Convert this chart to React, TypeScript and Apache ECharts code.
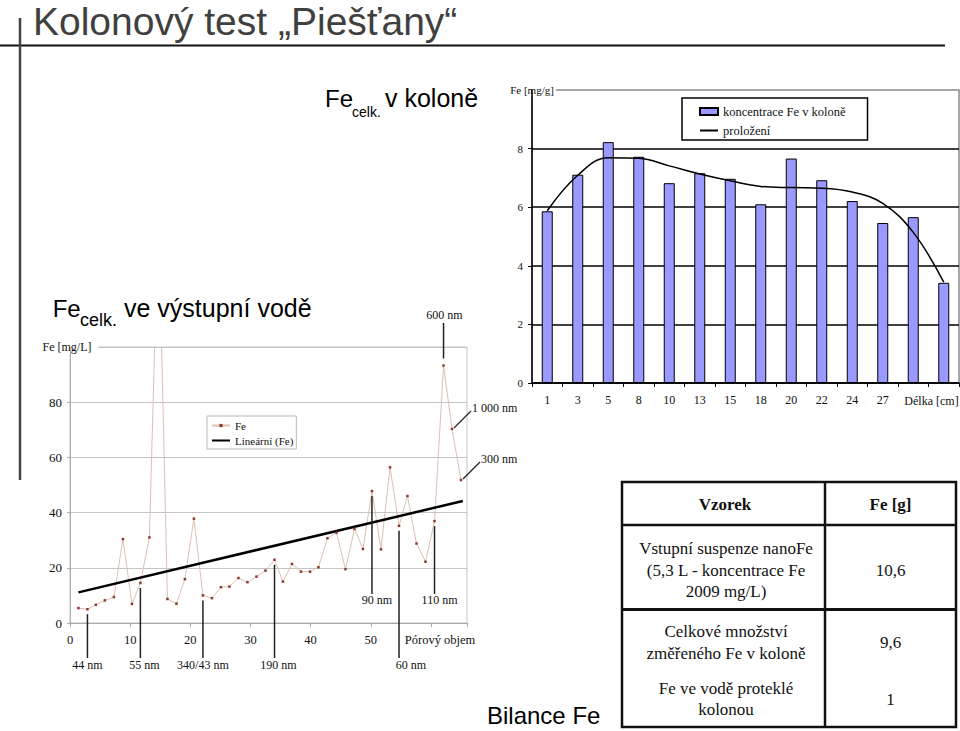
import React, { useEffect, useRef } from 'react';
import * as echarts from 'echarts';

// ---------- DATA ----------
// Top chart: Fe concentration in the column
const barCategories = ['1', '3', '5', '8', '10', '13', '15', '18', '20', '22', '24', '27', '', ''];
const barValues = [5.86, 7.11, 8.22, 7.72, 6.82, 7.16, 6.97, 6.1, 7.66, 6.92, 6.21, 5.46, 5.66, 3.42];
const fitValues = [5.88, 7.09, 7.69, 7.67, 7.41, 7.13, 6.9, 6.71, 6.67, 6.65, 6.52, 6.13, 5.14, 3.44];

// Bottom chart: Fe in outflow water vs. pore volume
const feX = [1.4, 2.9, 4.3, 5.8, 7.3, 8.8, 10.3, 11.7, 13.2, 14.7, 16.2, 17.7, 19.1, 20.6, 22.1, 23.6, 25.1, 26.5, 28.0, 29.5, 31.0, 32.5, 34.0, 35.4, 36.9, 38.4, 39.9, 41.3, 42.8, 44.3, 45.8, 47.3, 48.7, 50.2, 51.7, 53.2, 54.7, 56.1, 57.6, 59.1, 60.6, 62.1, 63.5, 65.0];
const feY = [5.4, 5.0, 6.6, 8.2, 9.4, 30.4, 6.9, 14.5, 31.0, 150, 8.7, 7.0, 15.9, 37.8, 10.0, 9.0, 13.0, 13.2, 16.3, 14.8, 16.8, 19.0, 22.9, 15.0, 21.4, 18.6, 18.6, 20.2, 30.7, 32.7, 19.5, 34.1, 26.8, 47.8, 26.7, 56.4, 35.2, 46.0, 28.8, 22.2, 36.9, 93.3, 70.3, 51.8];
const trendX = [1.4, 65.3];
const trendY = [11.1, 44.2];

// Particle-size annotations attached to points of the Fe series
const annotationLabels = ['44 nm', '55 nm', '340/43 nm', '190 nm', '60 nm', '90 nm', '110 nm', '600 nm', '1 000 nm', '300 nm'];
const annotationIndex = [1, 7, 14, 22, 36, 33, 40, 41, 42, 43];
const annotationKind = ['down', 'down', 'down', 'down', 'down', 'inside', 'inside', 'up', 'diag', 'diag'];

// Balance table
const tableHeader = ['Vzorek', 'Fe [g]'];
const tableSamples = ['Vstupní suspenze nanoFe\n(5,3 L - koncentrace Fe\n2009 mg/L)', 'Celkové množství\nzměřeného Fe v koloně', 'Fe ve vodě proteklé\nkolonou'];
const tableValues = ['10,6', '9,6', '1'];

// ---------- LAYOUT (not data) ----------
const annotationDx = [0, 4, 0, 4, 12, 5, 5, 1, 0, 0];
const tableRowCenters = [570, 642.5, 699];

const SERIF = 'Liberation Serif';
const SANS = 'Liberation Sans';

function buildOption(): any {
  return {
    animation: false,
    backgroundColor: '#fff',
    textStyle: { fontFamily: SERIF },
    grid: [
      { left: 532, top: 90, width: 427, height: 293, show: true, borderColor: '#8a8a8a', borderWidth: 1.5, containLabel: false },
      { left: 70, top: 347, width: 397, height: 276, show: true, borderColor: '#c4c4c4', borderWidth: 1, containLabel: false },
    ],
    xAxis: [
      {
        type: 'category', gridIndex: 0, data: barCategories,
        axisLine: { show: true, lineStyle: { color: '#000', width: 1.5 } },
        axisTick: { show: true, length: 4, interval: 0, lineStyle: { color: '#000' } },
        axisLabel: { color: '#111', fontSize: 12, margin: 11, interval: 0, fontFamily: SERIF },
        splitLine: { show: false },
      },
      {
        type: 'value', gridIndex: 1, min: 0, max: 66, interval: 10,
        axisLine: { show: true, lineStyle: { color: '#a8a8a8' } },
        axisTick: { show: true, length: 4, lineStyle: { color: '#a8a8a8' } },
        axisLabel: { color: '#111', fontSize: 12.5, margin: 10, fontFamily: SERIF, formatter: (v: number) => (v <= 50 ? String(v) : '') },
        splitLine: { show: false },
      },
    ],
    yAxis: [
      {
        type: 'value', gridIndex: 0, min: 0, max: 10, interval: 2,
        name: 'Fe [mg/g]', nameLocation: 'end', nameGap: 0,
        nameTextStyle: { fontSize: 11, color: '#111', fontFamily: SERIF, verticalAlign: 'middle', align: 'center', backgroundColor: '#fff', padding: [1, 2] },
        axisLine: { show: true, lineStyle: { color: '#000', width: 1.5 } },
        axisTick: { show: true, length: 4, lineStyle: { color: '#000' } },
        axisLabel: { fontSize: 11, color: '#111', margin: 9, showMaxLabel: false, fontFamily: SERIF },
        splitLine: { show: true, showMaxLine: false, lineStyle: { color: '#000', width: 1.5 } },
      },
      {
        type: 'value', gridIndex: 1, min: 0, max: 100, interval: 20,
        name: 'Fe [mg/L]', nameLocation: 'end', nameGap: 0,
        nameTextStyle: { fontSize: 12, color: '#111', fontFamily: SERIF, verticalAlign: 'middle', align: 'center', backgroundColor: '#fff', padding: [1, 7, 1, 1] },
        axisLine: { show: true, lineStyle: { color: '#b0b0b0' } },
        axisTick: { show: true, length: 3, lineStyle: { color: '#b0b0b0' } },
        axisLabel: { fontSize: 13, color: '#111', margin: 8, showMaxLabel: false, fontFamily: SERIF },
        splitLine: { show: true, lineStyle: { color: '#c4c4c4', width: 1 } },
      },
    ],
    legend: [
      {
        data: [
          { name: 'koncentrace Fe v koloně', icon: 'rect' },
          { name: 'proložení', itemStyle: { opacity: 0 } },
        ],
        orient: 'vertical', left: 682, top: 98,
        padding: [7, 22, 3, 17], itemGap: 6, itemWidth: 18, itemHeight: 7,
        borderColor: '#000', borderWidth: 1.5, backgroundColor: '#fff',
        textStyle: { fontSize: 12.5, color: '#111', fontFamily: SERIF },
      },
      {
        data: [
          { name: 'Fe' },
          { name: 'Lineární (Fe)', itemStyle: { opacity: 0 } },
        ],
        orient: 'vertical', left: 207, top: 416,
        padding: [3, 3, 2, 4], itemGap: 2, itemWidth: 18, itemHeight: 4,
        borderColor: '#b8b8b8', borderWidth: 1, backgroundColor: '#fff',
        textStyle: { fontSize: 11, color: '#111', fontFamily: SERIF, lineHeight: 13 },
      },
    ],
    series: [
      {
        type: 'bar', name: 'koncentrace Fe v koloně', xAxisIndex: 0, yAxisIndex: 0,
        data: barValues, barWidth: 11,
        itemStyle: { color: '#9999ff', borderColor: '#000', borderWidth: 1 },
      },
      {
        type: 'line', name: 'proložení', xAxisIndex: 0, yAxisIndex: 0,
        data: fitValues, smooth: 0.4, symbol: 'none',
        lineStyle: { color: '#000', width: 1.5 }, itemStyle: { color: '#000' }, z: 3,
      },
      {
        type: 'line', name: 'Fe', xAxisIndex: 1, yAxisIndex: 1,
        data: feX.map((x, i) => [x, feY[i]]),
        symbol: 'rect', symbolSize: 2.5, showSymbol: true, clip: true,
        lineStyle: { color: '#dcc0b2', width: 1 }, itemStyle: { color: '#8b3a2e' },
      },
      {
        type: 'line', name: 'Lineární (Fe)', xAxisIndex: 1, yAxisIndex: 1,
        data: trendX.map((x, i) => [x, trendY[i]]), symbol: 'none',
        lineStyle: { color: '#000', width: 2.5 }, itemStyle: { color: '#000' }, z: 3,
      },
    ],
  };
}

function text(x: number, y: number, t: string, size: number, opts: any = {}): any {
  return {
    type: 'text', x, y, z: 100,
    style: {
      text: t, fontSize: size, fontFamily: opts.family || SERIF, fontWeight: opts.weight || 'normal',
      fill: opts.fill || '#111', align: opts.align || 'left', verticalAlign: opts.valign || 'middle',
      lineHeight: opts.lineHeight,
    },
  };
}

function line(x1: number, y1: number, x2: number, y2: number, stroke: string, w: number): any {
  return { type: 'line', z: 100, shape: { x1, y1, x2, y2 }, style: { stroke, lineWidth: w } };
}

function staticGraphics(): any[] {
  const g: any[] = [];
  // slide decoration
  g.push(text(33, 21.5, 'Kolonový test „Piešťany“', 39, { family: SANS, fill: '#404040', lineHeight: 40 }));
  g.push(line(0, 45.5, 945, 45.5, '#111', 2));
  g.push(line(20, 18, 20, 480, '#444', 2.5));
  // headings
  g.push(text(325, 98, 'Fe', 24, { family: SANS, fill: '#000' }));
  g.push(text(352, 112, 'celk.', 14, { family: SANS, fill: '#000' }));
  g.push(text(385, 98, 'v koloně', 25, { family: SANS, fill: '#000' }));
  g.push(text(52.7, 308, 'Fe', 24, { family: SANS, fill: '#000' }));
  g.push(text(80, 320.4, 'celk.', 18, { family: SANS, fill: '#000' }));
  g.push(text(124, 308, 've výstupní vodě', 25, { family: SANS, fill: '#000' }));
  g.push(text(487, 715, 'Bilance Fe', 24, { family: SANS, fill: '#000' }));
  // axis names placed as in the original
  g.push(text(931.5, 400.7, 'Délka [cm]', 12, { align: 'center' }));
  g.push(text(440, 640, 'Pórový objem', 12.5, { align: 'center' }));
  // table
  g.push({ type: 'rect', z: 90, shape: { x: 622, y: 482, width: 334, height: 245 }, style: { fill: '#fff', stroke: '#111', lineWidth: 2.5 } });
  g.push(line(825, 482, 825, 727, '#111', 2.5));
  g.push(line(622, 525, 956, 525, '#111', 2.5));
  g.push(line(622, 609.5, 956, 609.5, '#111', 3));
  g.push(text(725, 504, tableHeader[0], 17, { align: 'center', weight: 'bold' }));
  g.push(text(890.5, 504, tableHeader[1], 17, { align: 'center', weight: 'bold' }));
  tableSamples.forEach((s, i) => {
    g.push(text(726, tableRowCenters[i], s, 17, { align: 'center', lineHeight: 21.7 }));
    g.push(text(890.5, tableRowCenters[i], tableValues[i], 17, { align: 'center' }));
  });
  return g;
}

export default function App() {
  const ref = useRef<HTMLDivElement>(null);
  useEffect(() => {
    const el = ref.current as HTMLDivElement;
    const chart = echarts.init(el, undefined, { renderer: 'svg' });
    chart.setOption(buildOption());

    const ann: any[] = [];
    annotationLabels.forEach((label, k) => {
      const i = annotationIndex[k];
      const p = chart.convertToPixel({ gridIndex: 1 } as any, [feX[i], feY[i]]) as number[];
      const px = p[0];
      const py = p[1];
      const dx = annotationDx[k];
      const kind = annotationKind[k];
      if (kind === 'down') {
        ann.push(line(px, py + 5, px, 658, '#222', 1.5));
        ann.push(text(px + dx, 665, label, 12, { align: 'center' }));
      } else if (kind === 'inside') {
        ann.push(line(px, py + 5, px, 594, '#222', 1.5));
        ann.push(text(px + dx, 600, label, 12, { align: 'center' }));
      } else if (kind === 'up') {
        ann.push(line(px, py - 7, px, 323, '#222', 1.5));
        ann.push(text(px + dx, 315, label, 12, { align: 'center' }));
      } else {
        ann.push(line(px + 2, py - 1, px + 19, py - 18, '#222', 1.2));
        ann.push(text(px + 20, py - 21, label, 12, { align: 'left' }));
      }
    });

    chart.setOption({ graphic: { elements: [...staticGraphics(), ...ann] } });
    return () => chart.dispose();
  }, []);
  return <div ref={ref} style={{ position: 'absolute', left: 0, top: 0, width: 960, height: 731 }} />;
}
